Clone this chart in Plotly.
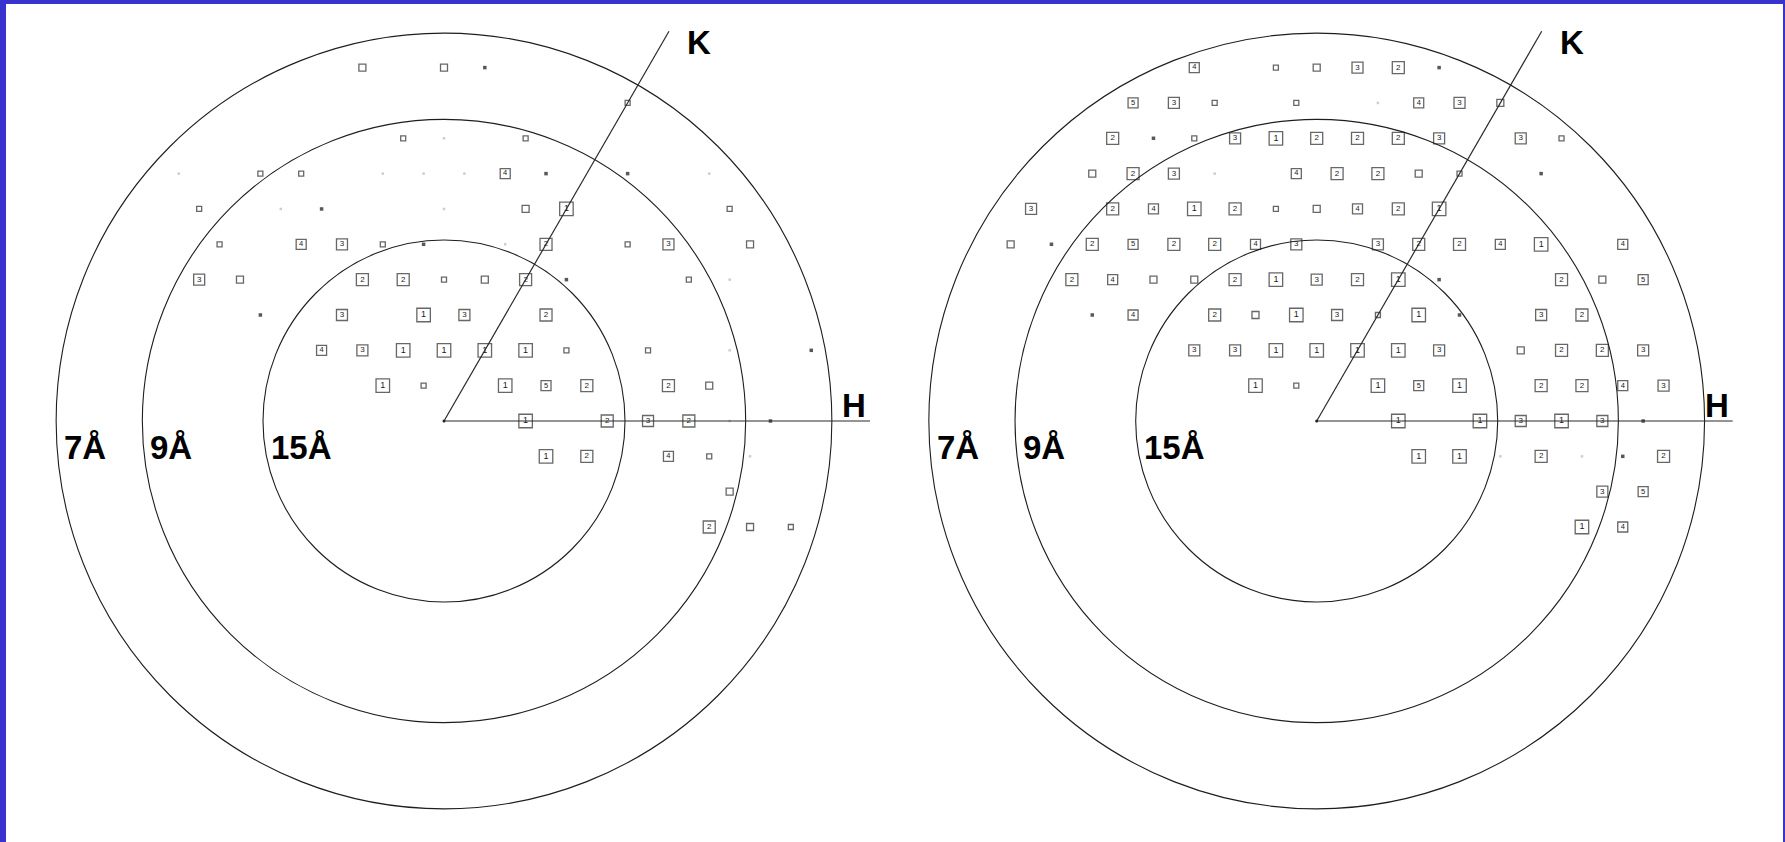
import math
import plotly.graph_objects as go

# ---------------------------------------------------------------------------
# Reciprocal-lattice data (hexagonal, gamma* = 60 deg); spot quality IQ 1..9
# ---------------------------------------------------------------------------
A_STAR = 0.01503                 # reciprocal cell edge, 1/Å
RING_RES = [7, 9, 15]            # resolution rings, Å
RING_LABELS = ["7Å", "9Å", "15Å"]

# Left pattern, listed row by row (k = 10 ... -3)
LEFT_H = [-7, -5, -4,
          0,
          -5, -4, -2,
          -10, -8, -7, -5, -4, -3, -2, -1, 1, 3,
          -9, -7, -6, -3, -1, 0, 4,
          -8, -6, -5, -4, -3, -1, 0, 2, 3, 5,
          -8, -7, -4, -3, -2, -1, 0, 1, 4, 5,
          -6, -4, -2, -1, 1,
          -4, -3, -2, -1, 0, 1, 2, 4, 6, 8,
          -2, -1, 1, 2, 3, 5, 6,
          2, 4, 5, 6, 7, 8,
          3, 4, 6, 7, 8,
          8,
          8, 9, 10]
LEFT_K = [10, 10, 10,
          9,
          8, 8, 8,
          7, 7, 7, 7, 7, 7, 7, 7, 7, 7,
          6, 6, 6, 6, 6, 6, 6,
          5, 5, 5, 5, 5, 5, 5, 5, 5, 5,
          4, 4, 4, 4, 4, 4, 4, 4, 4, 4,
          3, 3, 3, 3, 3,
          2, 2, 2, 2, 2, 2, 2, 2, 2, 2,
          1, 1, 1, 1, 1, 1, 1,
          0, 0, 0, 0, 0, 0,
          -1, -1, -1, -1, -1,
          -2,
          -3, -3, -3]
LEFT_IQ = [6, 6, 8,
           7,
           7, 9, 7,
           9, 7, 7, 9, 9, 9, 4, 8, 8, 9,
           7, 9, 8, 9, 6, 1, 7,
           7, 4, 3, 7, 8, 9, 2, 7, 3, 6,
           3, 6, 2, 2, 7, 6, 2, 8, 7, 9,
           8, 3, 1, 3, 2,
           4, 3, 1, 1, 1, 1, 7, 7, 9, 8,
           1, 7, 1, 5, 2, 2, 6,
           1, 2, 3, 2, 9, 8,
           1, 2, 4, 7, 9,
           6,
           2, 6, 7]

# Right pattern, listed row by row (k = 10 ... -3)
RIGHT_H = [-8, -6, -5, -4, -3, -2,
           -9, -8, -7, -5, -3, -2, -1, 0,
           -9, -8, -7, -6, -5, -4, -3, -2, -1, 1, 2,
           -9, -8, -7, -6, -4, -3, -2, -1, 0, 2,
           -10, -8, -7, -6, -5, -4, -3, -2, -1, 0,
           -10, -9, -8, -7, -6, -5, -4, -3, -1, 0, 1, 2, 3, 5,
           -8, -7, -6, -5, -4, -3, -2, -1, 0, 1, 4, 5, 6,
           -7, -6, -4, -3, -2, -1, 0, 1, 2, 4, 5,
           -4, -3, -2, -1, 0, 1, 2, 4, 5, 6, 7,
           -2, -1, 1, 2, 3, 5, 6, 7, 8,
           2, 4, 5, 6, 7, 8,
           3, 4, 5, 6, 7, 8, 9,
           8, 9,
           8, 9]
RIGHT_K = [10] * 6 + [9] * 8 + [8] * 11 + [7] * 10 + [6] * 10 + [5] * 14 \
    + [4] * 13 + [3] * 11 + [2] * 11 + [1] * 9 + [0] * 6 + [-1] * 7 \
    + [-2] * 2 + [-3] * 2
RIGHT_IQ = [4, 7, 6, 3, 2, 8,
            5, 3, 7, 7, 9, 4, 3, 6,
            2, 8, 7, 3, 1, 2, 2, 2, 3, 3, 7,
            6, 2, 3, 9, 4, 2, 2, 6, 7, 8,
            3, 2, 4, 1, 2, 7, 6, 4, 2, 1,
            6, 8, 2, 5, 2, 2, 4, 3, 3, 2, 2, 4, 1, 4,
            2, 4, 6, 6, 2, 1, 3, 2, 1, 8, 2, 6, 5,
            8, 4, 2, 6, 1, 3, 7, 1, 8, 3, 2,
            3, 3, 1, 1, 1, 1, 3, 6, 2, 2, 3,
            1, 7, 1, 5, 1, 2, 2, 4, 3,
            1, 1, 3, 1, 3, 8,
            1, 1, 9, 2, 9, 8, 2,
            3, 5,
            1, 4]

# ---------------------------------------------------------------------------
# Page geometry (pixels)
# ---------------------------------------------------------------------------
W, H_PX = 1785, 842
M_L, M_R, M_T, M_B = 6, 2, 4, 0
PX = 2715.0                      # pixels per 1/Å
SPLIT = 880                      # pixel column between the two panels
CY = 421                         # pixel row of both pattern centres
PANELS = [
    dict(cx=444.0, h_len=426, k_len=450, xa="x", ya="y",
         h=LEFT_H, k=LEFT_K, iq=LEFT_IQ),
    dict(cx=1316.7, h_len=416, k_len=450, xa="x2", ya="y2",
         h=RIGHT_H, k=RIGHT_K, iq=RIGHT_IQ),
]

SIZE = {1: 13.5, 2: 12, 3: 11, 4: 10, 5: 10, 6: 7, 7: 5, 8: 3.5, 9: 2.5}
TXT = {1: 9, 2: 8, 3: 8, 4: 7.5, 5: 7.5}
INK = "#1e1e1e"
BOLD = "Liberation Sans, Arial, sans-serif"

fig = go.Figure()
shapes, annos = [], []

for p in PANELS:
    xs = [A_STAR * (h + k / 2.0) for h, k in zip(p["h"], p["k"])]
    ys = [A_STAR * k * math.sqrt(3) / 2.0 for k in p["k"]]
    iq = p["iq"]
    fig.add_trace(go.Scatter(
        x=xs, y=ys, xaxis=p["xa"], yaxis=p["ya"],
        mode="markers+text",
        text=[str(q) if q <= 5 else "" for q in iq],
        textposition="middle center",
        textfont=dict(family=BOLD, color="#1a1a1a",
                      size=[TXT.get(q, 6) for q in iq]),
        marker=dict(
            symbol=["square-open" if q <= 7 else "square" for q in iq],
            size=[SIZE[q] for q in iq],
            color=["#b8b8b8" if q == 9 else ("#111" if q == 8 else "#262626")
                   for q in iq],
            line=dict(width=[1.3 if q <= 7 else 0 for q in iq]),
        ),
        hoverinfo="skip", showlegend=False, cliponaxis=False,
    ))
    # origin
    fig.add_trace(go.Scatter(x=[0], y=[0], xaxis=p["xa"], yaxis=p["ya"],
                             mode="markers", showlegend=False,
                             marker=dict(symbol="circle", size=3, color=INK),
                             hoverinfo="skip"))

    xr, yr = p["xa"], p["ya"]
    for d, lab in zip(RING_RES, RING_LABELS):
        r = 1.0 / d
        shapes.append(dict(type="circle", xref=xr, yref=yr,
                           x0=-r, x1=r, y0=-r, y1=r,
                           line=dict(color=INK, width=1.1)))
        annos.append(dict(xref=xr, yref=yr, x=-r + 6 / PX, y=-26 / PX,
                          text="<b>%s</b>" % lab, showarrow=False,
                          xanchor="left", yanchor="middle",
                          font=dict(family=BOLD, size=33, color="#000")))
    # H and K axes
    hl, kl = p["h_len"] / PX, p["k_len"] / PX
    kx, ky = kl * math.cos(math.radians(60)), kl * math.sin(math.radians(60))
    shapes.append(dict(type="line", xref=xr, yref=yr, x0=0, y0=0, x1=hl, y1=0,
                       line=dict(color="#2a2a2a", width=1.2)))
    shapes.append(dict(type="line", xref=xr, yref=yr, x0=0, y0=0, x1=kx, y1=ky,
                       line=dict(color="#2a2a2a", width=1.2)))
    annos.append(dict(xref=xr, yref=yr, x=kx + 30 / PX, y=ky - 11 / PX,
                      text="<b>K</b>", showarrow=False,
                      xanchor="center", yanchor="middle",
                      font=dict(family=BOLD, size=33, color="#000")))
    annos.append(dict(xref=xr, yref=yr, x=hl - 16 / PX, y=16 / PX,
                      text="<b>H</b>", showarrow=False,
                      xanchor="center", yanchor="middle",
                      font=dict(family=BOLD, size=33, color="#000")))

plot_w = W - M_L - M_R
split = (SPLIT - M_L) / plot_w
yrange = [-(H_PX - CY) / PX, (CY - M_T) / PX]
ax_common = dict(visible=False, showgrid=False, zeroline=False,
                 fixedrange=True, autorange=False)

fig.update_layout(
    width=W, height=H_PX,
    margin=dict(l=M_L, r=M_R, t=M_T, b=M_B, pad=0),
    paper_bgcolor="#3833cf", plot_bgcolor="#ffffff",
    xaxis=dict(domain=[0, split],
               range=[(M_L - PANELS[0]["cx"]) / PX,
                      (SPLIT - PANELS[0]["cx"]) / PX], **ax_common),
    yaxis=dict(domain=[0, 1], range=yrange, anchor="x", **ax_common),
    xaxis2=dict(domain=[split, 1],
                range=[(SPLIT - PANELS[1]["cx"]) / PX,
                       (W - M_R - PANELS[1]["cx"]) / PX], anchor="y2",
                **ax_common),
    yaxis2=dict(domain=[0, 1], range=yrange, anchor="x2", **ax_common),
    shapes=shapes, annotations=annos,
)

fig.write_html("out.html")
